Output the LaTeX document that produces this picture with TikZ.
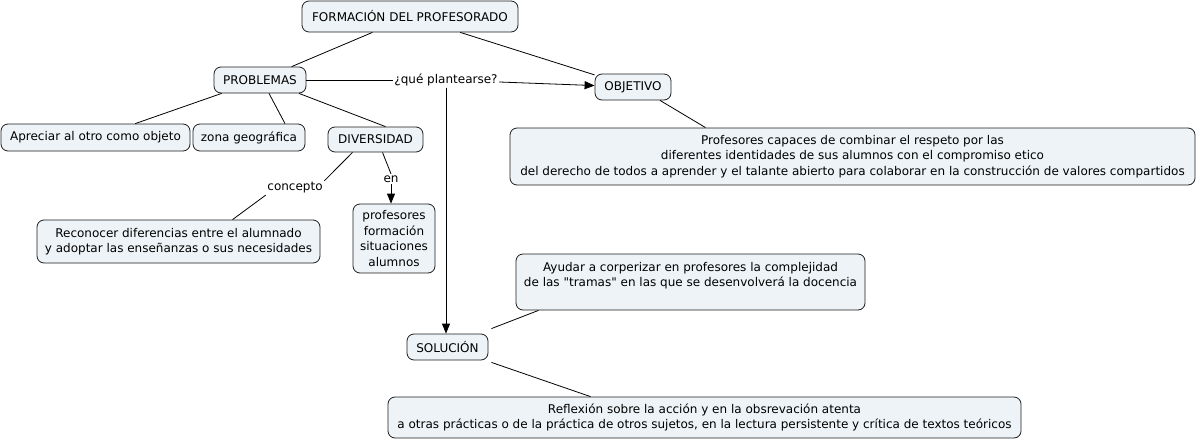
\documentclass[tikz,border=0pt]{standalone}
\usepackage{fontspec}
\setmainfont{DejaVu Sans}
\usetikzlibrary{arrows.meta}
\definecolor{boxfill}{RGB}{237,243,246}
\definecolor{boxline}{RGB}{30,30,30}
\tikzset{
  cbox/.style={draw=boxline, fill=boxfill, rounded corners=7pt, line width=0.8pt,
    align=center, inner sep=0pt, font=\fontsize{12}{15.5}\selectfont},
  lbl/.style={fill=white, inner sep=1.5pt, font=\fontsize{12}{15.5}\selectfont},
  conn/.style={draw=black, line width=0.8pt},
  arr/.style={conn, -{Triangle[length=10pt,width=8pt]}},
}
\begin{document}
\begin{tikzpicture}[x=1pt,y=-1pt]
\useasboundingbox (0,0) rectangle (1197,442);
\node[cbox, minimum width=216, minimum height=31] (form) at (410,16.5) {FORMACIÓN DEL PROFESORADO};
\node[cbox, minimum width=92, minimum height=26] (prob) at (260,80) {PROBLEMAS};
\node[lbl] (q) at (446,80) {¿qué plantearse?};
\node[cbox, minimum width=76, minimum height=26] (obj) at (633,87) {OBJETIVO};
\node[cbox, minimum width=189, minimum height=27] (apr) at (95.5,137.5) {Apreciar al otro como objeto};
\node[cbox, minimum width=112, minimum height=27] (zona) at (249,137.5) {zona geográfica};
\node[cbox, minimum width=95, minimum height=25] (div) at (375.5,139.5) {DIVERSIDAD};
\node[lbl] (conc) at (295,188) {concepto};
\node[lbl] (en) at (391,179) {en};
\node[cbox, minimum width=283, minimum height=43] (rec) at (178.5,241.5) {Reconocer diferencias entre el alumnado\\y adoptar las enseñanzas o sus necesidades};
\node[cbox, minimum width=82, minimum height=69] (pf) at (394,238.5) {profesores\\formación\\situaciones\\alumnos};
\node[cbox, minimum width=685, minimum height=57] (prof) at (852.5,156.5) {Profesores capaces de combinar el respeto por las\\diferentes identidades de sus alumnos con el compromiso etico\\del derecho de todos a aprender y el talante abierto para colaborar en la construcción de valores compartidos};
\node[cbox, minimum width=349, minimum height=56] (ay) at (690.5,282) {Ayudar a corperizar en profesores la complejidad\\de las \textquotedbl tramas\textquotedbl{} en las que se desenvolverá la docencia\\\mbox{}};
\node[cbox, minimum width=81, minimum height=26] (sol) at (447.5,347) {SOLUCIÓN};
\node[cbox, minimum width=633, minimum height=41] (refl) at (704.5,417.5) {Reflexión sobre la acción y en la obsrevación atenta\\a otras prácticas o de la práctica de otros sujetos, en la lectura persistente y crítica de textos teóricos};

\draw[conn] (form) -- (prob);
\draw[conn] (form) -- (obj);
\draw[conn] (prob) -- (q);
\draw[arr] (q) -- (obj);
\draw[arr] (q.south) -- (q.south |- sol.north);
\draw[conn] ([xshift=27pt]obj.south) -- ([xshift=-147pt]prof.north);
\draw[conn] (prob) -- (apr);
\draw[conn] ([xshift=9pt]prob.south) -- ([xshift=36pt]zona.north);
\draw[conn] ([xshift=39pt]prob.south) -- ([xshift=10pt]div.north);
\draw[conn] ([xshift=-23pt]div.south) -- (conc.north east);
\draw[conn] (conc.south west) -- ([xshift=54pt]rec.north);
\draw[conn] ([xshift=7pt]div.south) -- (en.north);
\draw[arr] (en.south) -- (en.south |- pf.north);
\draw[conn] ([xshift=3pt,yshift=5pt]sol.north east) -- ([xshift=-152pt]ay.south);
\draw[conn] ([xshift=3pt,yshift=-2pt]sol.south east) -- ([xshift=-114pt]refl.north);
\end{tikzpicture}
\end{document}
